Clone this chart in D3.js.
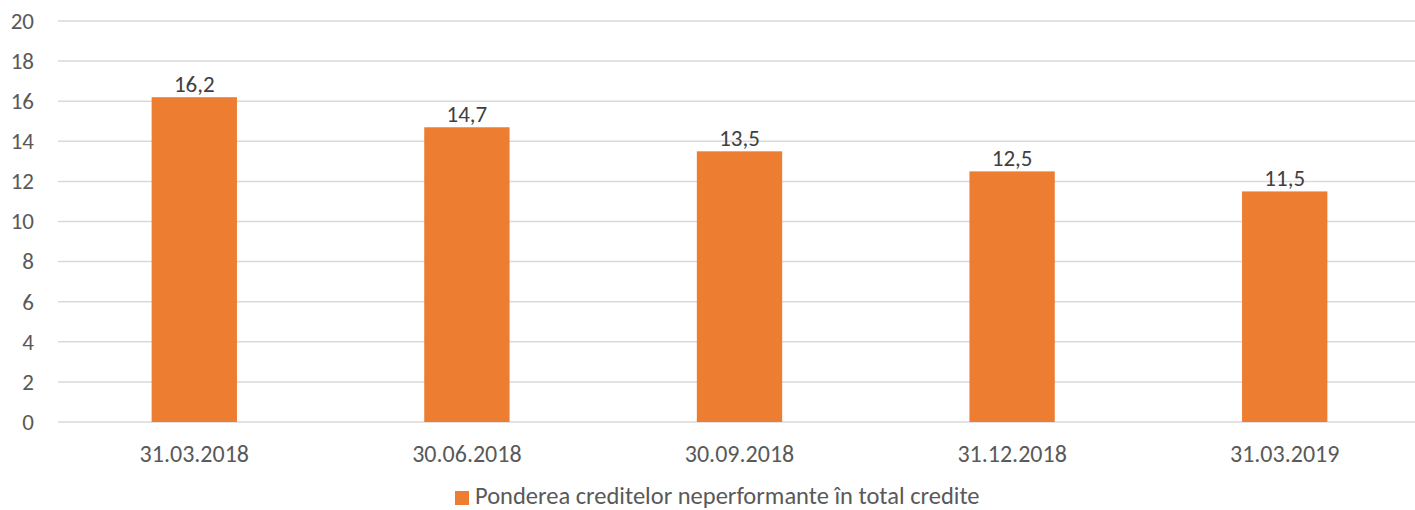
<!DOCTYPE html>
<html><head><meta charset="utf-8">
<script src="https://cdn.jsdelivr.net/npm/d3@7"></script>
<style>body{margin:0;background:#fff;}svg{display:block;}</style>
</head><body>
<svg id="c" width="1415" height="510"></svg>
<script>
const categories = ["31.03.2018","30.06.2018","30.09.2018","31.12.2018","31.03.2019"];
const values = [16.2, 14.7, 13.5, 12.5, 11.5];
const yTicks = [0,2,4,6,8,10,12,14,16,18,20];
const seriesName = "Ponderea creditelor neperformante în total credite";

const svg = d3.select("#c");
const font = "Carlito, Calibri, Lato, sans-serif";
const textColor = "#595959";
const barColor = "#ED7D31";

const x = d3.scaleBand().domain(categories).range([58, 1421]).paddingInner(0.687).paddingOuter(0.3435);
const y = d3.scaleLinear().domain([0,20]).range([422, 21]);

// gridlines
svg.append("g").selectAll("line").data(yTicks).join("line")
  .attr("x1", 58).attr("x2", 1415)
  .attr("y1", d => y(d)).attr("y2", d => y(d))
  .attr("stroke", "#d9d9d9").attr("stroke-width", 1.5);

// y axis labels
const yAxis = d3.axisLeft(y).tickValues(yTicks).tickSize(0).tickPadding(0);
const gy = svg.append("g").attr("transform", "translate(34,0)").call(yAxis);
gy.select(".domain").remove();
gy.selectAll("text").attr("font-family", font).attr("font-size", 23).attr("fill", textColor);

// bars
svg.append("g").selectAll("rect").data(values).join("rect")
  .attr("x", (d,i) => x(categories[i]))
  .attr("width", x.bandwidth())
  .attr("y", d => y(d))
  .attr("height", d => y(0) - y(d))
  .attr("fill", barColor);

// value labels
svg.append("g").selectAll("text").data(values).join("text")
  .attr("x", (d,i) => x(categories[i]) + x.bandwidth()/2)
  .attr("y", d => y(d) - 5)
  .attr("text-anchor", "middle")
  .attr("font-family", font).attr("font-size", 23).attr("fill", "#404040")
  .text(d => d.toString().replace(".", ","));

// x axis labels
const xAxis = d3.axisBottom(x).tickSize(0).tickPadding(0);
const gx = svg.append("g").attr("transform", "translate(0,454)").call(xAxis);
gx.select(".domain").remove();
gx.selectAll("text").attr("dy", "0.35em").attr("font-family", font).attr("font-size", 24).attr("fill", textColor);

// legend
const lg = svg.append("g");
lg.append("rect").attr("x", 455).attr("y", 491).attr("width", 14).attr("height", 14).attr("fill", barColor);
lg.append("text").attr("x", 475).attr("y", 504)
  .attr("font-family", font).attr("font-size", 24.5).attr("fill", textColor).text(seriesName);
</script>
</body></html>
